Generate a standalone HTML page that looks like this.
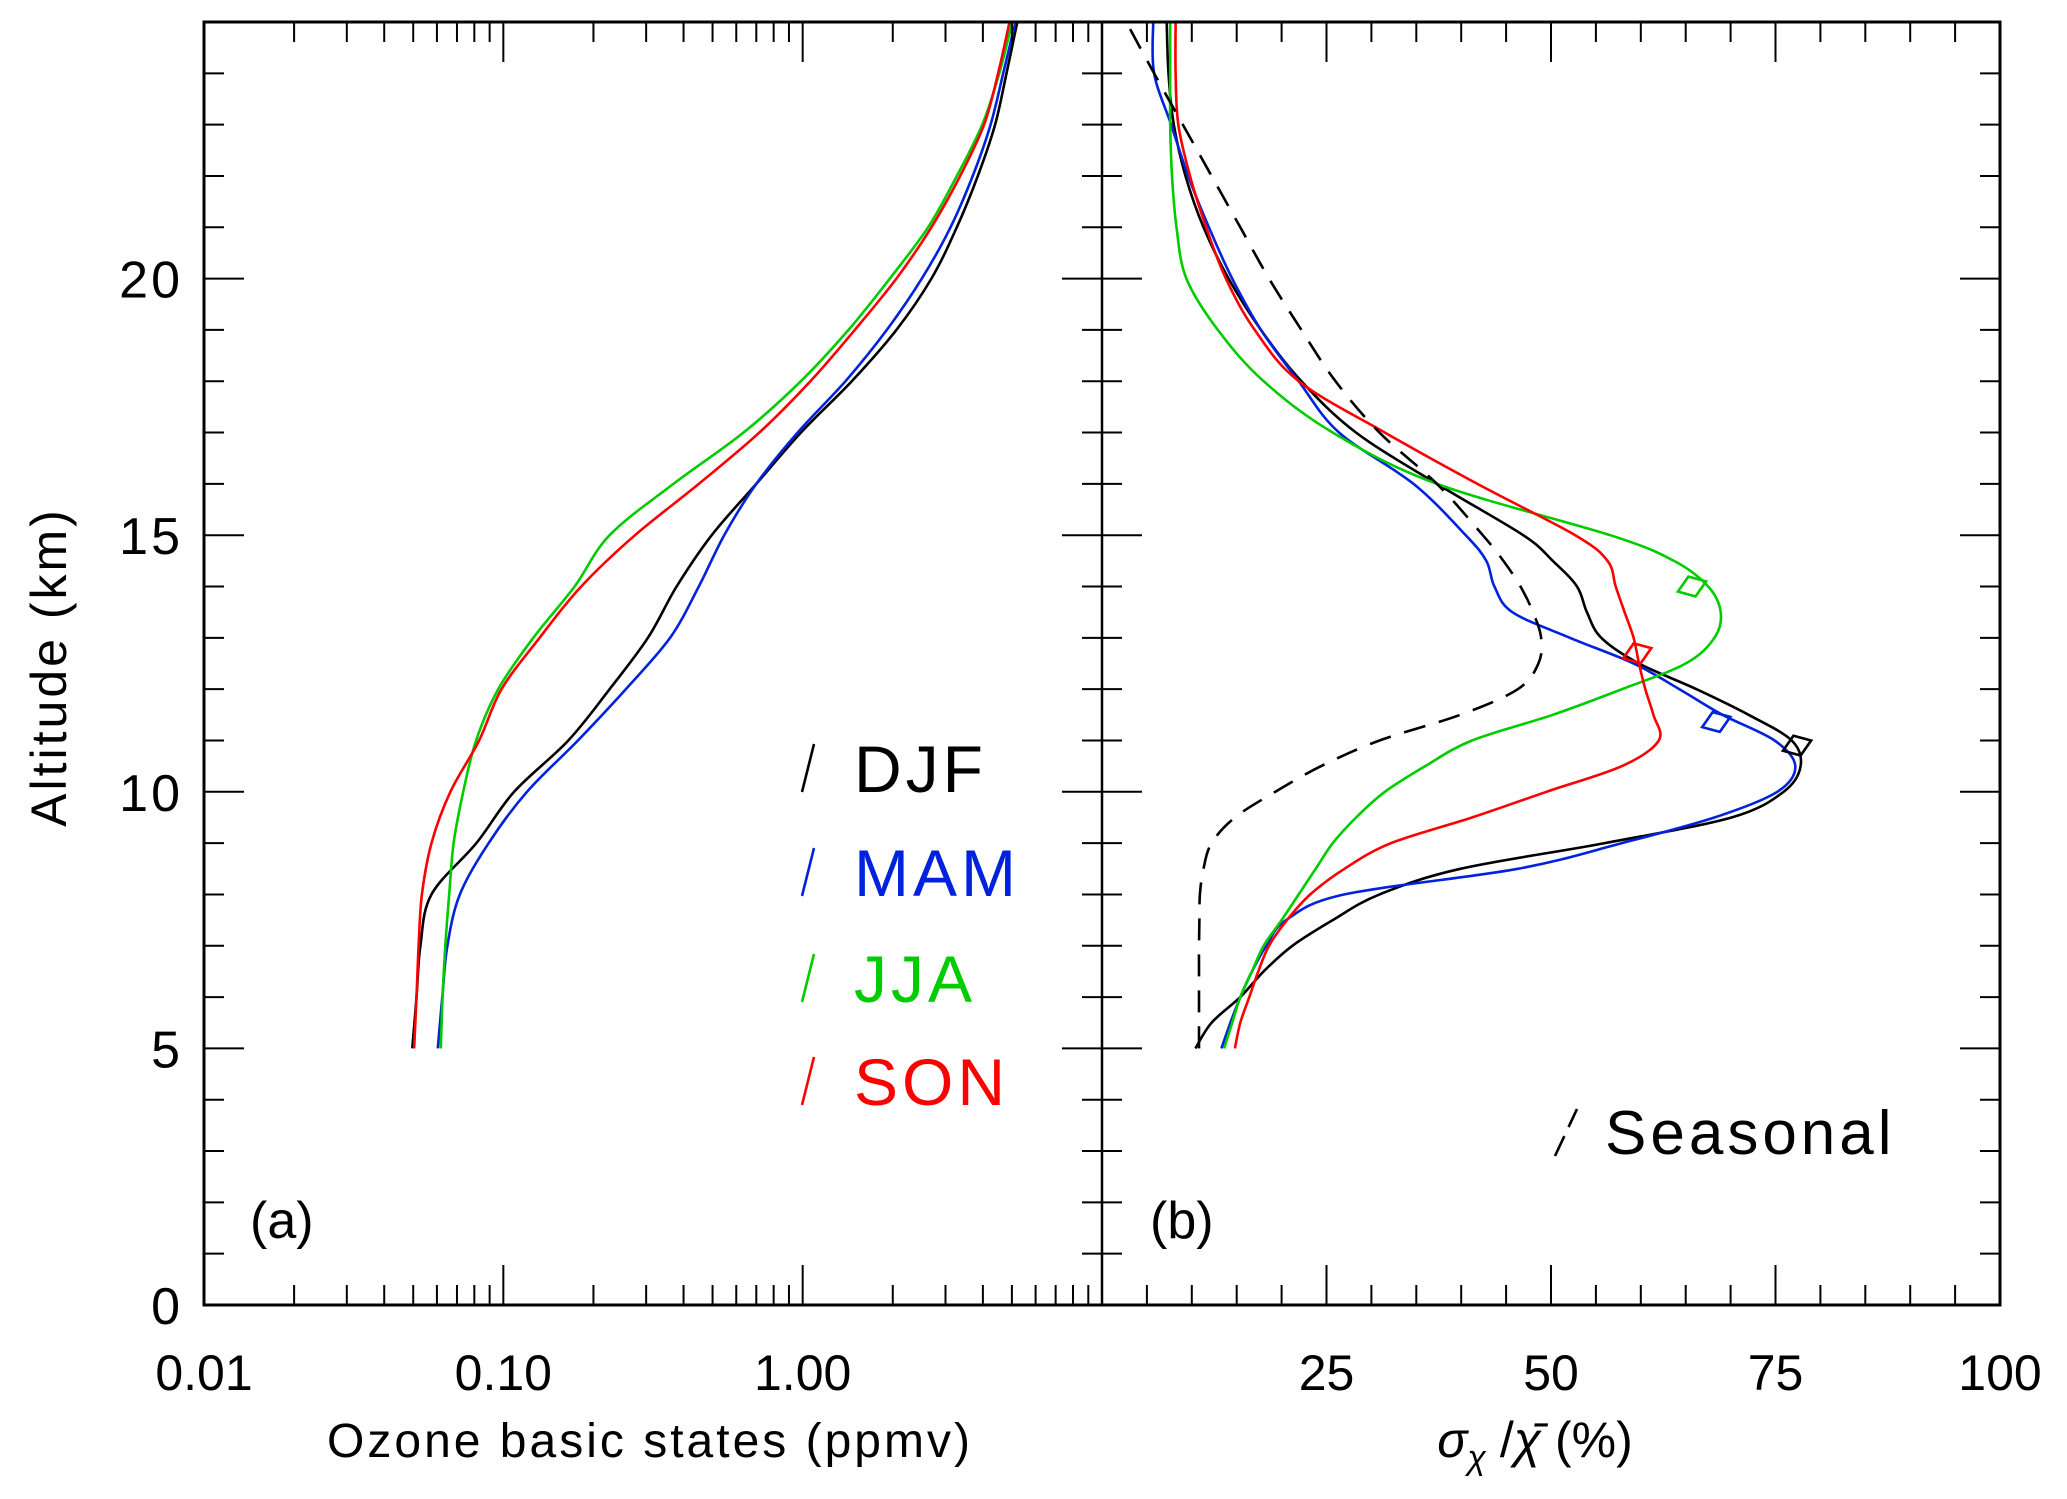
<!DOCTYPE html>
<html><head><meta charset="utf-8"><style>
html,body{margin:0;padding:0;background:#fff;}
svg{display:block;font-family:"Liberation Sans","DejaVu Sans",sans-serif;}
</style></head><body>
<svg id="chart" width="2067" height="1499" viewBox="0 0 2067 1499" xmlns="http://www.w3.org/2000/svg">
<rect x="0" y="0" width="2067" height="1499" fill="#fff"/>
<g id="curves"></g>
<g id="axes"></g>
<g id="labels"></g>
</svg>
<script>
// ---------- data ----------
const altA = [5,6,7,8,9,10,11,12,13,14,15,16,17,18,19,20,21,22,23,24,25];
const logDJF = [-1.304,-1.29,-1.277,-1.24,-1.09,-0.964,-0.783,-0.645,-0.517,-0.421,-0.304,-0.155,-0.006,0.164,0.313,0.43,0.515,0.585,0.643,0.681,0.717];
const logMAM = [-1.219,-1.204,-1.187,-1.145,-1.049,-0.921,-0.751,-0.591,-0.443,-0.347,-0.262,-0.155,-0.017,0.143,0.281,0.398,0.494,0.568,0.628,0.670,0.711];
const logJJA = [-1.209,-1.203,-1.194,-1.181,-1.166,-1.134,-1.091,-1.017,-0.9,-0.762,-0.645,-0.432,-0.198,-0.006,0.153,0.291,0.419,0.515,0.6,0.657,0.7];
const logSON = [-1.298,-1.29,-1.283,-1.272,-1.24,-1.177,-1.081,-1.006,-0.879,-0.74,-0.56,-0.347,-0.145,0.026,0.174,0.313,0.43,0.526,0.606,0.653,0.691];

const altB = [5,5.5,6,6.5,7,7.5,8,8.5,9,9.5,10,10.5,11,11.5,12,12.5,13,13.5,14,14.5,15,16,17,18,19,20,21,22,23,24,25];
const pctDJF = [10.4,12.2,15.4,18,21.2,25.7,30.9,39.9,56,70.1,75.9,77.8,76.8,72,66.2,59.8,55.6,54.0,52.9,50.2,46.9,37.3,28.3,22.2,17.7,14.1,11.3,9.3,8.0,7.4,7.2];
const pctMAM = [13.3,14.3,15.4,16.7,18.3,20.5,27,46.3,57.9,68.2,75.2,77.2,74.9,69.1,64.3,59.2,52.1,45.7,43.7,42.8,40.5,34.7,26.4,21.9,17.7,14.5,11.9,9.6,7.7,5.8,5.7];
const pctJJA = [13.6,14.5,15.4,16.7,18,20,21.9,23.8,25.7,28.3,31.5,36,41.2,50.2,57.9,65,68.2,68.9,67.5,63.7,56.6,37.3,25.7,18,12.9,9.4,8.3,7.8,7.6,7.6,7.6];
const pctSON = [14.8,15.4,16.4,17.4,18.6,20.6,23.2,27,32.2,41.2,49.5,57.9,62,61.4,60.5,59.8,59.2,58.2,57.2,56.3,52.7,41.8,31.5,21.9,17,13.8,11.6,9.8,8.5,8.2,8.2];
const pctSeasonal = [10.8,10.8,10.8,10.8,10.8,10.85,10.9,11.3,12.2,14.8,19.3,24.4,30.9,39.9,46.3,48.6,48.9,48.0,46.6,44.7,42.4,37.3,30.9,26,22.2,18.6,15.4,12.2,9,5.8,2.7];

const peakPct = [77.4,68.4,65.7,59.6];
const peakAlt = [10.9,11.36,14.0,12.7];
const seasonNames = ["DJF","MAM","JJA","SON"];
const seasonColors = ["#000000","#0022dd","#00cc00","#ff0000"];

const xTicksA = ["0.01","0.10","1.00"];
const xTicksB = ["25","50","75","100"];
const yTicks = ["0","5","10","15","20"];

// ---------- layout ----------
const L=204, M=1102, R=2000, T=22, B=1305;
const yS = a => B - (a/25)*(B-T);
const xA = lg => L + (lg+2)/3*(M-L);
const xB = p => M + p/100*(R-M);
const NS="http://www.w3.org/2000/svg";
function el(tag, attrs, parent){const e=document.createElementNS(NS,tag);for(const k in attrs)e.setAttribute(k,attrs[k]);parent.appendChild(e);return e;}

function smoothPath(pts){
  let d=`M${pts[0][0].toFixed(1)},${pts[0][1].toFixed(1)}`;
  for(let i=0;i<pts.length-1;i++){
    const p0=pts[i-1]||pts[i], p1=pts[i], p2=pts[i+1], p3=pts[i+2]||pts[i+1];
    const c1=[p1[0]+(p2[0]-p0[0])/6, p1[1]+(p2[1]-p0[1])/6];
    const c2=[p2[0]-(p3[0]-p1[0])/6, p2[1]-(p3[1]-p1[1])/6];
    d+=` C${c1[0].toFixed(1)},${c1[1].toFixed(1)} ${c2[0].toFixed(1)},${c2[1].toFixed(1)} ${p2[0].toFixed(1)},${p2[1].toFixed(1)}`;
  }
  return d;
}
const curves=document.getElementById('curves');
const seriesA=[logDJF,logMAM,logJJA,logSON];
const seriesB=[pctDJF,pctMAM,pctJJA,pctSON];
seriesA.forEach((s,i)=>{
  const p=el('path',{d:smoothPath(s.map((v,j)=>[xA(v),yS(altA[j])])),fill:'none',stroke:seasonColors[i],'stroke-width':2.6},curves);
  
  
});
seriesB.forEach((s,i)=>{
  const p=el('path',{d:smoothPath(s.map((v,j)=>[xB(v),yS(altB[j])])),fill:'none',stroke:seasonColors[i],'stroke-width':2.6},curves);
  
  
});
const sp=el('path',{d:smoothPath(pctSeasonal.map((v,j)=>[xB(v),yS(altB[j])])),fill:'none',stroke:'#000','stroke-width':2.6,'stroke-dasharray':'22,14'},curves);


peakPct.forEach((v,i)=>{
  const cx=xB(v), cy=yS(peakAlt[i]), r=15;
  const m=el('polygon',{points:`${cx-r},${cy} ${cx},${cy-r*0.7} ${cx+r},${cy} ${cx},${cy+r*0.7}`,fill:'none',stroke:seasonColors[i],'stroke-width':2.6,transform:`rotate(-20 ${cx} ${cy})`},curves);
  
  
});

// ---------- axes ----------
const ax=document.getElementById('axes');
const frame=el('rect',{x:L,y:T,width:R-L,height:B-T,fill:'none',stroke:'#000','stroke-width':3},ax);


const div=el('line',{x1:M,y1:T,x2:M,y2:B,stroke:'#000','stroke-width':2.5},ax);


function tick(x1,y1,x2,y2){el('line',{x1,y1,x2,y2,stroke:'#000','stroke-width':2},ax);}
for(let k=0;k<=25;k++){
  const y=yS(k), len=(k%5===0)?40:20;
  tick(L,y,L+len,y); tick(M-len,y,M+len,y); tick(R-len,y,R,y);
}
for(let dec=-2;dec<1;dec++){
  for(let m=1;m<=9;m++){
    const x=xA(dec+Math.log10(m)); const len=(m===1)?40:20;
    tick(x,B,x,B-len); tick(x,T,x,T+len);
  }
}
for(let p=5;p<100;p+=5){
  const x=xB(p), len=(p%25===0)?40:20;
  tick(x,B,x,B-len); tick(x,T,x,T+len);
}

// ---------- labels ----------
const lb=document.getElementById('labels');
function txt(s,attrs,name){const t=el('text',attrs,lb);t.textContent=s;return t;}
yTicks.forEach(s=>txt(s,{x:183,y:yS(+s)+19,'font-size':52,'text-anchor':'end','letter-spacing':3},'y-tick-label-'+s));
xTicksA.forEach((s,i)=>txt(s,{x:xA(i-2),y:1390,'font-size':50,'text-anchor':'middle'},'x-tick-label-a-'+s));
xTicksB.forEach(s=>txt(s,{x:xB(+s),y:1390,'font-size':50,'text-anchor':'middle'},'x-tick-label-b-'+s));
txt('Ozone basic states (ppmv)',{x:650,y:1457,'font-size':48,'text-anchor':'middle','letter-spacing':3},'x-axis-title-a');
const xb=txt('',{x:1535,y:1457,'font-size':50,'text-anchor':'middle'},'x-axis-title-b');
xb.innerHTML='<tspan font-style="italic">σ</tspan><tspan font-size="34" dy="12" font-style="italic">χ</tspan><tspan dy="-12"> /</tspan><tspan font-style="italic">χ̄</tspan><tspan> (%)</tspan>';
txt('Altitude (km)',{x:66,y:667,'font-size':50,'text-anchor':'middle','letter-spacing':3,transform:'rotate(-90 66 667)'},'y-axis-title');
txt('(a)',{x:250,y:1238,'font-size':52},'panel-label-a');
txt('(b)',{x:1150,y:1238,'font-size':52},'panel-label-b');
const legY=[768,872,978,1081];
seasonNames.forEach((n,i)=>{
  const l=el('line',{x1:802,y1:legY[i]+24,x2:814,y2:legY[i]-24,stroke:seasonColors[i],'stroke-width':2.6},lb);
  
  
  txt(n,{x:854,y:legY[i]+24,'font-size':66,fill:seasonColors[i],'letter-spacing':4},'legend-entry-'+n.toLowerCase());
});
const sl=el('line',{x1:1555,y1:1156,x2:1577,y2:1109,stroke:'#000','stroke-width':2.6,'stroke-dasharray':'22,10'},lb);


txt('Seasonal',{x:1605,y:1154,'font-size':62,'letter-spacing':4},'legend-entry-seasonal');
</script>
</body></html>
